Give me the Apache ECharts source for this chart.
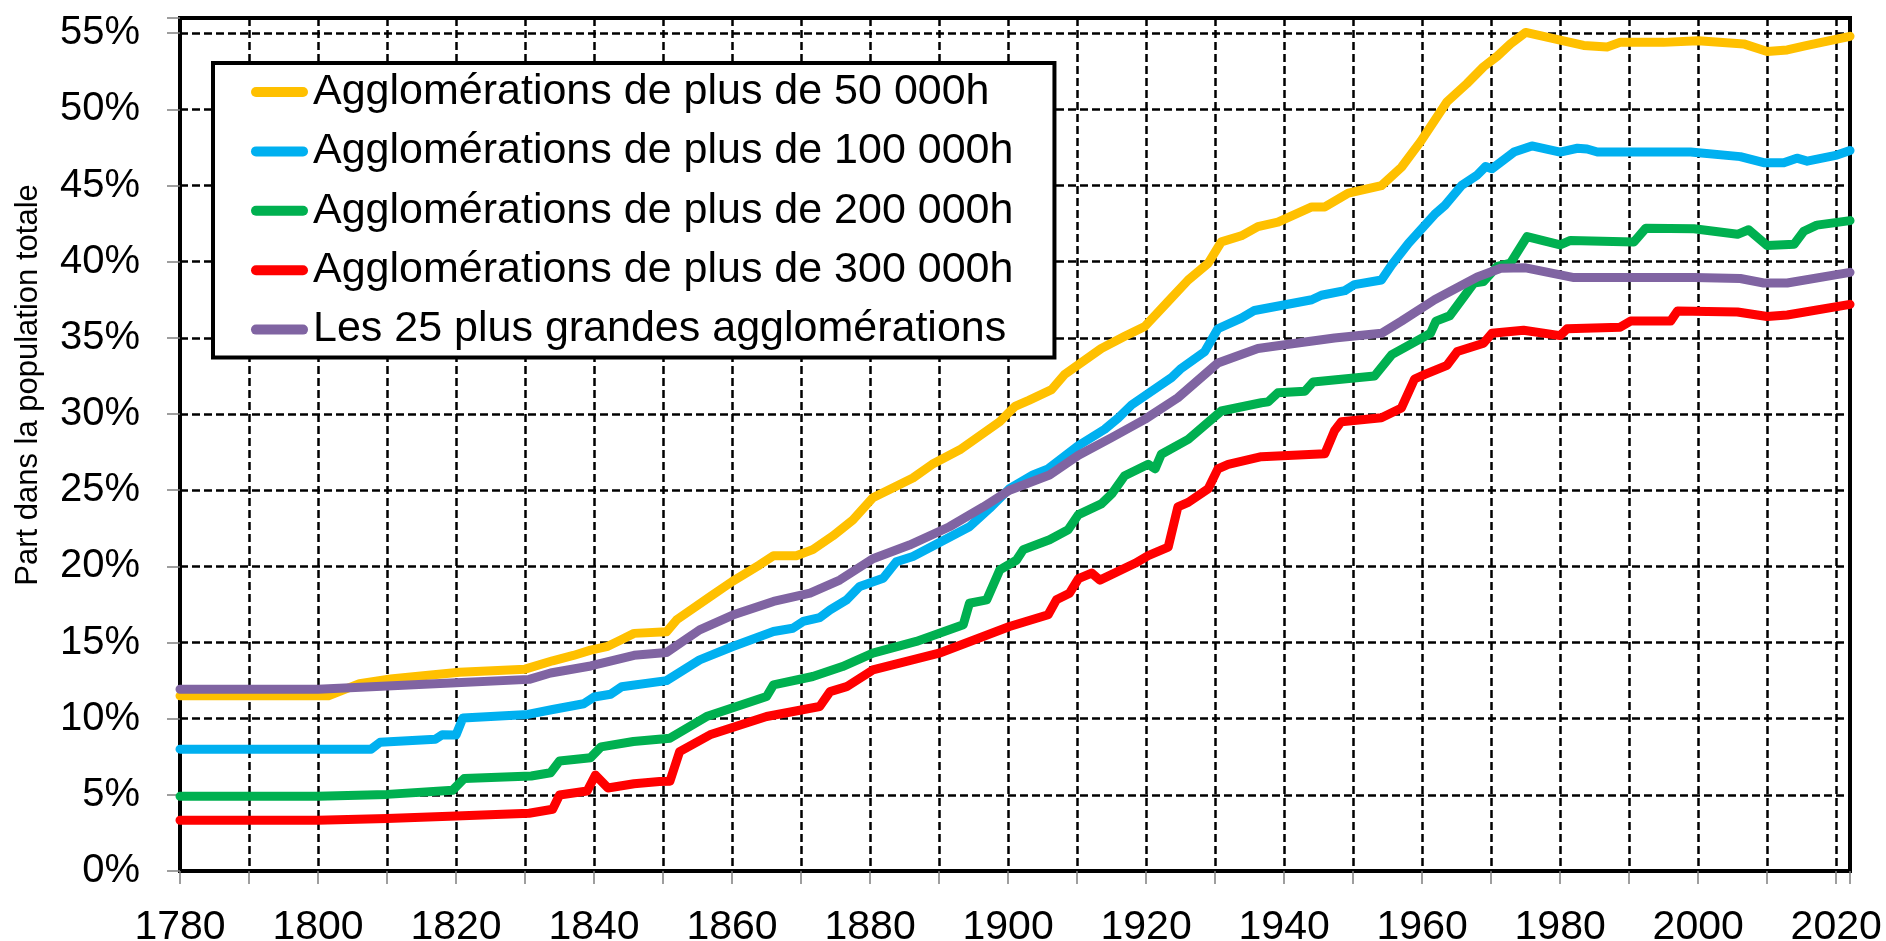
<!DOCTYPE html>
<html>
<head>
<meta charset="utf-8">
<script src="https://cdn.jsdelivr.net/npm/echarts@6/dist/echarts.min.js"></script>
<style>
  html, body { margin: 0; padding: 0; background: #fff; }
  #chart { width: 1886px; height: 941px; }
</style>
</head>
<body>
<div id="chart"></div>
<script>
// noms des séries (légende)
const seriesNames = [
  'Agglomérations de plus de 50 000h',
  'Agglomérations de plus de 100 000h',
  'Agglomérations de plus de 200 000h',
  'Agglomérations de plus de 300 000h',
  'Les 25 plus grandes agglomérations'
];

// [année, part en %]
const plus50k = [
  [1780,11.5],[1801.5,11.5],[1806,12.3],[1810.5,12.6],[1816,12.85],[1820.5,13.05],[1830,13.25],
  [1834,13.8],[1837,14.15],[1839.5,14.5],[1842,14.75],[1844,15.2],[1845.8,15.6],[1850.5,15.7],
  [1852,16.5],[1856.8,18.0],[1860,19.0],[1864,20.1],[1866,20.7],[1869.3,20.7],[1871.7,21.1],
  [1874.6,22.0],[1877.5,23.05],[1880.4,24.5],[1886.2,25.8],[1889,26.7],[1893,27.65],[1898.8,29.5],
  [1901,30.5],[1903,30.9],[1906.3,31.6],[1908.2,32.6],[1913.5,34.3],[1916.9,35.1],[1919.8,35.75],
  [1923.2,37.4],[1926.1,38.8],[1929,39.9],[1930.9,41.3],[1933.8,41.7],[1936.2,42.3],[1939.1,42.6],
  [1944,43.6],[1945.9,43.6],[1949.3,44.5],[1954.1,45.0],[1957,46.2],[1959.8,47.9],[1963.6,50.5],
  [1966.5,51.7],[1968.9,52.8],[1970.9,53.5],[1972.8,54.3],[1975,55.05],[1980,54.55],[1983.4,54.2],
  [1986.8,54.1],[1988.7,54.4],[1995,54.4],[2000,54.5],[2006.6,54.3],[2010,53.8],[2012.9,53.9],
  [2015.8,54.2],[2022,54.8]
];

const plus100k = [
  [1780,8.0],[1807.7,8.0],[1809,8.45],[1817,8.65],[1818,8.95],[1820,8.93],[1821,10.05],[1830.4,10.28],
  [1834,10.6],[1838.5,10.98],[1840,11.42],[1842.4,11.6],[1844,12.1],[1850.5,12.5],[1855.3,13.86],
  [1860.1,14.74],[1866,15.72],[1868.8,15.94],[1870.3,16.38],[1872.7,16.64],[1874.2,17.14],[1876.6,17.8],
  [1878.5,18.68],[1881.9,19.22],[1883.8,20.3],[1886.2,20.65],[1894.4,22.6],[1897.3,23.8],[1900.2,25.1],
  [1903.6,26.0],[1905.8,26.4],[1910.1,27.9],[1914,29.0],[1916,29.76],[1917.9,30.6],[1923.7,32.4],
  [1925.1,33.0],[1928.5,34.1],[1930.4,35.6],[1933.8,36.3],[1935.7,36.8],[1944,37.5],[1945.4,37.8],
  [1948.8,38.1],[1950.2,38.5],[1954.1,38.8],[1955.6,39.8],[1958,41.2],[1961.8,43.1],[1963.3,43.7],
  [1965.7,45.0],[1968,45.7],[1969.2,46.25],[1970.1,46.1],[1973.3,47.2],[1975.9,47.6],[1980,47.2],
  [1982.5,47.45],[1983.9,47.4],[1985.4,47.2],[1998.9,47.2],[2006.1,46.9],[2009.5,46.5],[2012.4,46.5],
  [2014.3,46.8],[2015.8,46.6],[2020.1,47.0],[2022,47.3]
];

const plus200k = [
  [1780,4.9],[1800,4.9],[1810,5.03],[1819.5,5.3],[1821.2,6.08],[1830.9,6.24],[1833.7,6.45],[1835,7.22],
  [1839.5,7.44],[1841,8.15],[1845.7,8.5],[1851,8.72],[1856.3,10.14],[1865,11.45],[1866,12.22],
  [1871.7,12.77],[1876,13.42],[1880.4,14.3],[1886.7,15.07],[1893.5,16.16],[1894.4,17.58],[1896.9,17.8],
  [1898.8,19.77],[1901.2,20.4],[1902.2,21.1],[1906,21.75],[1908.7,22.4],[1910.2,23.4],[1913.5,24.1],
  [1915,24.75],[1916.9,25.95],[1920.3,26.7],[1921.3,26.4],[1922.2,27.36],[1926.1,28.34],[1930.9,30.2],
  [1936.7,30.74],[1937.7,30.8],[1939.1,31.4],[1943,31.5],[1944.2,32.1],[1953.1,32.5],[1955.6,33.9],
  [1960.4,35.1],[1961.2,35.3],[1962,36.1],[1964,36.45],[1966.2,37.8],[1967.5,38.6],[1968.9,38.7],
  [1970.9,39.7],[1972.8,39.9],[1975.2,41.65],[1980,41.1],[1981.5,41.4],[1990.7,41.3],[1992.4,42.2],
  [1999.4,42.16],[2005.7,41.8],[2007.3,42.1],[2010,41.06],[2013.9,41.15],[2015.3,42.0],[2017.2,42.4],
  [2022,42.7]
];

const plus300k = [
  [1780,3.33],[1800,3.33],[1810,3.44],[1820,3.61],[1830.6,3.79],[1834,4.05],[1835,4.99],[1839,5.25],
  [1840.2,6.3],[1842,5.45],[1845.8,5.73],[1849.5,5.87],[1851,5.9],[1852.4,7.84],[1856.8,8.94],
  [1865,10.14],[1872.7,10.8],[1874.2,11.78],[1876.6,12.1],[1880.4,13.2],[1890,14.3],[1900.2,16.05],
  [1905.8,16.82],[1907,17.8],[1908.9,18.24],[1910.2,19.2],[1912.1,19.56],[1913.3,19.1],[1918.4,20.2],
  [1920.3,20.7],[1923.2,21.26],[1924.6,23.9],[1926.1,24.2],[1929,25.1],[1930.4,26.4],[1931.9,26.7],
  [1936.7,27.2],[1945.9,27.4],[1947.3,28.9],[1948.3,29.5],[1954.1,29.76],[1957,30.4],[1958.9,32.3],
  [1960.4,32.6],[1963.6,33.2],[1965.1,34.1],[1968.9,34.65],[1970.1,35.3],[1974.7,35.5],[1980,35.15],
  [1981,35.6],[1988.7,35.7],[1990.2,36.1],[1996,36.1],[1997,36.77],[2005.7,36.7],[2010,36.4],
  [2012.9,36.5],[2022,37.2]
];

const top25 = [
  [1780,11.93],[1800,11.93],[1810,12.14],[1820,12.36],[1830.6,12.58],[1833.7,13.0],[1839.5,13.46],
  [1845.8,14.16],[1850.5,14.34],[1855.3,15.83],[1860.1,16.8],[1866,17.7],[1871.3,18.24],[1875.6,19.1],
  [1880.4,20.5],[1885.7,21.4],[1891.5,22.6],[1896.4,23.9],[1900.2,25.0],[1906,26.0],[1910.2,27.3],
  [1915,28.45],[1919.8,29.65],[1924.6,31.07],[1930.4,33.35],[1936.2,34.3],[1940.1,34.55],[1947.3,34.99],
  [1954.1,35.3],[1957,36.1],[1961.8,37.5],[1968,39.0],[1971.4,39.57],[1975,39.6],[1982,38.96],
  [1999.4,38.96],[2006.1,38.9],[2009.5,38.6],[2012.9,38.6],[2022,39.3]
];

const seriesData = [plus50k, plus100k, plus200k, plus300k, top25];
const colors = ['#FFC000', '#00B0F0', '#00B050', '#FF0000', '#8064A2'];

const font = '"Liberation Sans", Arial, sans-serif';
const dashed = { color: '#000', width: 2.5, type: [8, 4] };

var myChart = echarts.init(document.getElementById('chart'), null, { renderer: 'canvas' });
var option;

option = {
  animation: false,
  backgroundColor: '#fff',
  color: colors,
  grid: {
    left: 180, right: 36, top: 18, bottom: 70,
    outerBoundsMode: 'none',
    containLabel: false,
    show: true,
    borderColor: '#000',
    borderWidth: 4,
    backgroundColor: 'transparent'
  },
  legend: {
    orient: 'vertical',
    left: 213,
    top: 63,
    padding: [5, 41, 4, 38],
    itemGap: 11.4,
    itemWidth: 57,
    itemHeight: 10,
    icon: 'path://M5,0 L52,0 A5,5 0 0 1 52,10 L5,10 A5,5 0 0 1 5,0 Z',
    backgroundColor: '#fff',
    borderColor: '#000',
    borderWidth: 4,
    borderRadius: 0,
    textStyle: { fontFamily: font, fontSize: 43, lineHeight: 48, color: '#000' },
    data: seriesNames
  },
  xAxis: {
    type: 'value',
    min: 1780,
    max: 2022,
    interval: 10,
    axisLine: { show: false },
    axisTick: { show: true, length: 13, lineStyle: { color: '#7f7f7f', width: 1.5 } },
    splitLine: { show: true, lineStyle: dashed },
    axisLabel: {
      margin: 36,
      fontFamily: font,
      fontSize: 41,
      color: '#000',
      formatter: function (v) { return v % 20 === 0 ? String(v) : ''; }
    }
  },
  yAxis: {
    type: 'value',
    min: 0,
    max: 56,
    interval: 5,
    axisLine: { show: false },
    axisTick: { show: true, length: 13, lineStyle: { color: '#7f7f7f', width: 1.5 } },
    splitLine: { show: true, lineStyle: dashed },
    axisLabel: {
      margin: 40,
      fontFamily: font,
      fontSize: 40,
      color: '#000',
      formatter: function (v) { return v % 5 === 0 ? v + '%' : ''; }
    }
  },
  graphic: [
    {
      type: 'text',
      x: 28,
      y: 385,
      rotation: Math.PI / 2,
      style: {
        text: 'Part dans la population totale',
        fontFamily: font,
        fontSize: 31,
        fill: '#000',
        align: 'center',
        verticalAlign: 'middle'
      }
    }
  ],
  series: seriesNames.map(function (name, i) {
    return {
      name: name,
      type: 'line',
      data: seriesData[i],
      symbol: 'none',
      smooth: false,
      lineStyle: { width: 9, color: colors[i], cap: 'round', join: 'round' },
      z: 2 + i
    };
  })
};

option && myChart.setOption(option);
</script>
</body>
</html>
